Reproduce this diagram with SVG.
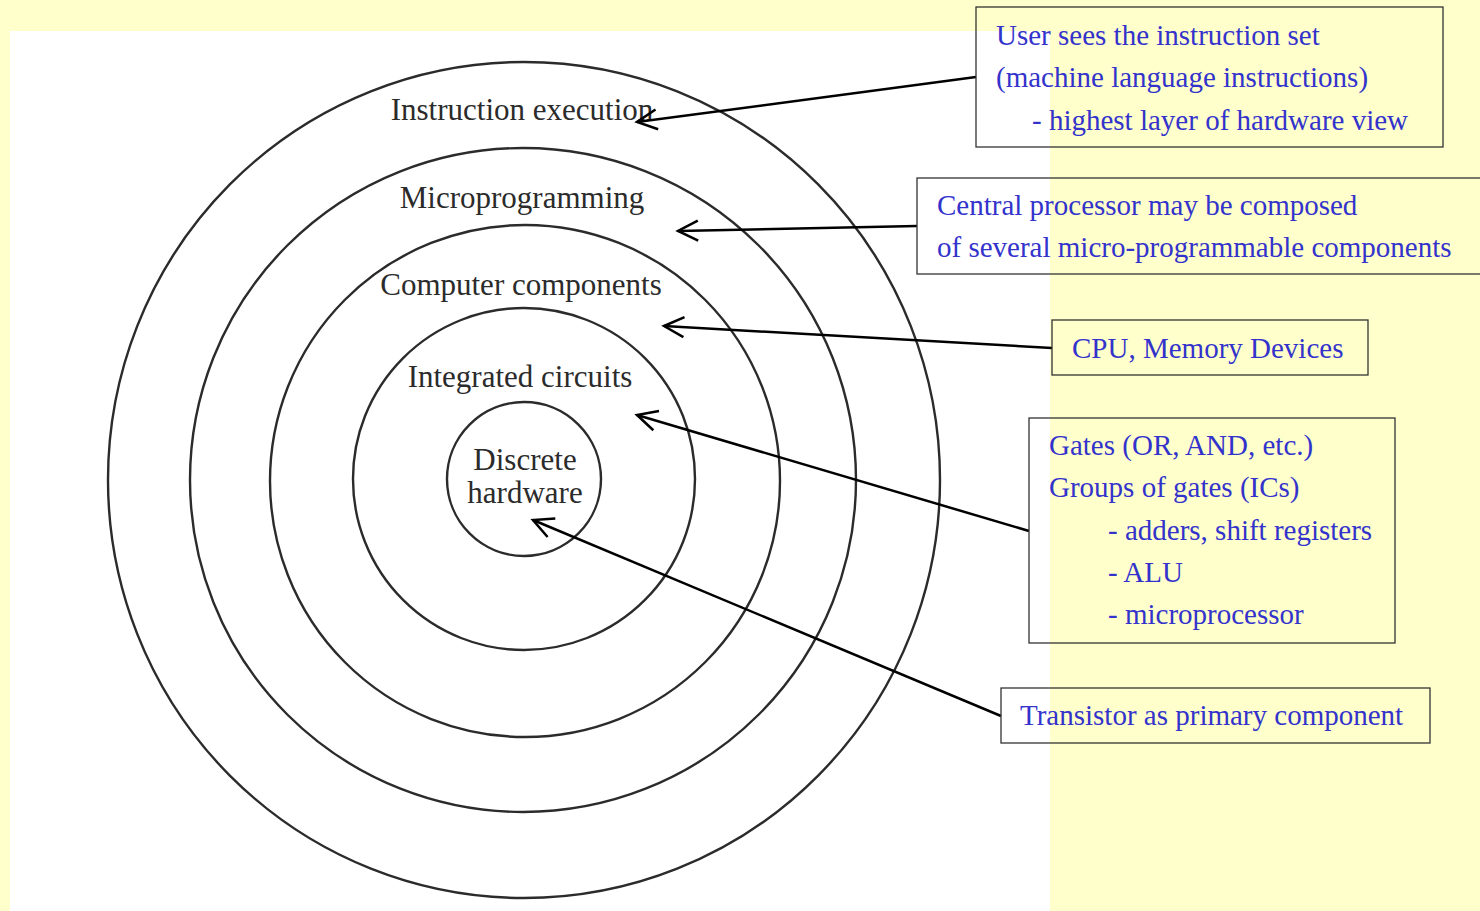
<svg xmlns="http://www.w3.org/2000/svg" width="1480" height="911" viewBox="0 0 1480 911">
<defs>
<style>
.ring{fill:none;stroke:#2b2b2b;stroke-width:2.4}
.lbl{font-family:"Liberation Serif",serif;font-size:31px;fill:#2b2b2b}
.box{fill:none;stroke:#333;stroke-width:1.3}
.bt{font-family:"Liberation Serif",serif;font-size:29px;fill:#3333CC}
.conn{stroke:#000;stroke-width:2.5;fill:none}
</style>
<marker id="arr" markerUnits="userSpaceOnUse" markerWidth="30" markerHeight="30" refX="22" refY="12" orient="auto" viewBox="0 0 30 24">
<path d="M2,2 L22,12 L2,22" fill="none" stroke="#000" stroke-width="2.5"/>
</marker>
</defs>
<rect x="0" y="0" width="1480" height="911" fill="#FFFFCC"/>
<rect x="10" y="31" width="1040" height="880" fill="#FFFFFF"/>
<g id="rings">
<ellipse class="ring" cx="524" cy="480" rx="416" ry="418"/>
<ellipse class="ring" cx="523" cy="480" rx="333" ry="332"/>
<ellipse class="ring" cx="525" cy="481" rx="255" ry="256"/>
<ellipse class="ring" cx="524" cy="479" rx="171" ry="171"/>
<ellipse class="ring" cx="524" cy="479" rx="77" ry="77"/>
</g>
<g id="ring-labels">
<text class="lbl" x="522" y="120" text-anchor="middle">Instruction execution</text>
<text class="lbl" x="522" y="208" text-anchor="middle">Microprogramming</text>
<text class="lbl" x="521" y="295" text-anchor="middle">Computer components</text>
<text class="lbl" x="520" y="387" text-anchor="middle">Integrated circuits</text>
<text class="lbl" x="525" y="470" text-anchor="middle">Discrete</text>
<text class="lbl" x="525" y="503" text-anchor="middle">hardware</text>
</g>
<g id="connectors">
<line class="conn" x1="976" y1="77" x2="637" y2="122" marker-end="url(#arr)"/>
<line class="conn" x1="917" y1="226" x2="678" y2="231" marker-end="url(#arr)"/>
<line class="conn" x1="1052" y1="348" x2="664" y2="326" marker-end="url(#arr)"/>
<line class="conn" x1="1029" y1="531" x2="637" y2="415" marker-end="url(#arr)"/>
<line class="conn" x1="1001" y1="716" x2="533" y2="520" marker-end="url(#arr)"/>
</g>
<g id="box-user">
<rect class="box" x="976" y="7" width="467" height="140"/>
<text class="bt" x="996" y="45">User sees the instruction set</text>
<text class="bt" x="996" y="87">(machine language instructions)</text>
<text class="bt" x="1032" y="130">- highest layer of hardware view</text>
</g>
<g id="box-central">
<rect class="box" x="917" y="178" width="570" height="96"/>
<text class="bt" x="937" y="215">Central processor may be composed</text>
<text class="bt" x="937" y="257">of several micro-programmable components</text>
</g>
<g id="box-cpu">
<rect class="box" x="1052" y="320" width="316" height="55"/>
<text class="bt" x="1072" y="358">CPU, Memory Devices</text>
</g>
<g id="box-gates">
<rect class="box" x="1029" y="418" width="366" height="225"/>
<text class="bt" x="1049" y="455">Gates (OR, AND, etc.)</text>
<text class="bt" x="1049" y="497">Groups of gates (ICs)</text>
<text class="bt" x="1108" y="540">- adders, shift registers</text>
<text class="bt" x="1108" y="582">- ALU</text>
<text class="bt" x="1108" y="624">- microprocessor</text>
</g>
<g id="box-transistor">
<rect class="box" x="1001" y="688" width="429" height="55"/>
<text class="bt" x="1020" y="725">Transistor as primary component</text>
</g>
</svg>
